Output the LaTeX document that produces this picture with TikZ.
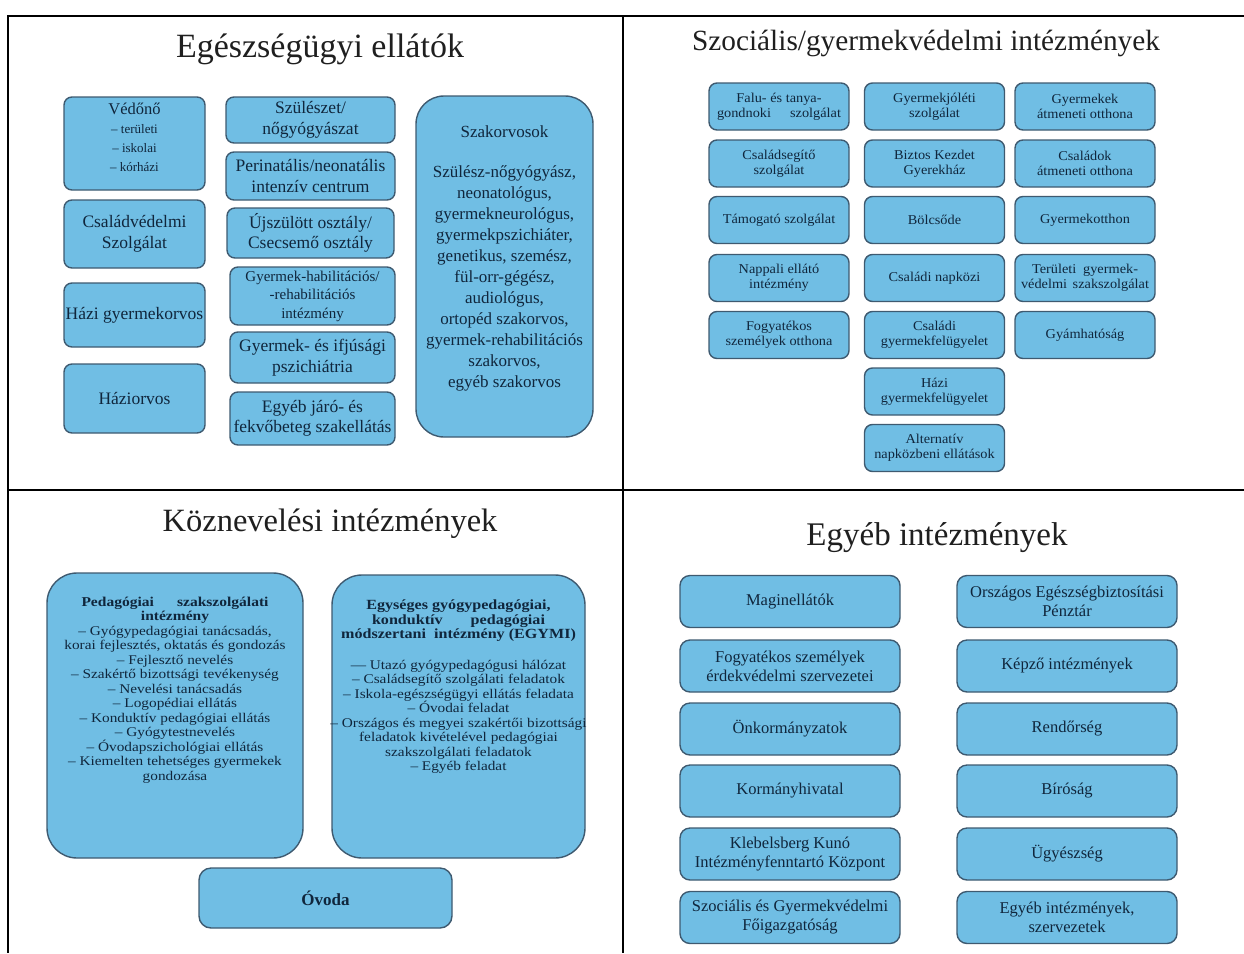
\documentclass[tikz,border=0pt]{standalone}
\usepackage{fontspec}
\setmainfont{Liberation Serif}
\newfontfamily\wideserif[FakeStretch=1.15]{Liberation Serif}
\newfontfamily\trserif[FakeStretch=1.06]{Liberation Serif}
\definecolor{cellfill}{RGB}{112,190,228}
\definecolor{celledge}{RGB}{62,90,112}
\definecolor{celltext}{RGB}{16,38,60}
\newcommand\setfs[2]{\fontsize{#1}{#2}\selectfont}

\begin{document}
\begin{tikzpicture}[x=1pt,y=-1pt,
  frame/.style={line width=2.6pt, black},
  heading/.style={anchor=base, inner sep=0, text=black!88},
  cell/.style={draw=celledge, fill=cellfill, line width=1.4pt, rounded corners=8pt,
               inner sep=0, align=center, text=celltext},
  celltxt/.style={align=center, text=celltext, inner sep=0},
  tl/.style={cell, font=\setfs{17.5}{20.5}},
  tr/.style={cell, minimum width=140pt, minimum height=47pt, font=\trserif\setfs{13.5}{15}},
  br/.style={cell, minimum width=220pt, minimum height=52pt, rounded corners=10pt,
             font=\setfs{16.5}{19}},
  bigbox/.style={cell, rounded corners=30pt}
]
\useasboundingbox (0,0) rectangle (1244,953);

% quadrant frame
\coordinate (ftl) at (8,16);
\coordinate (ftr) at (1244,16);
\coordinate (fbl) at (8,953);
\coordinate (fmt) at (623,16);
\coordinate (fmb) at (623,953);
\coordinate (fml) at (8,490);
\coordinate (fmr) at (1244,490);
\draw[frame] (ftr) -- (ftl) -- (fbl);
\draw[frame] (fmt) -- (fmb);
\draw[frame] (fml) -- (fmr);

% headings
\node[heading, font=\setfs{34}{40}]   (h1) at (320,57)  {Egészségügyi ellátók};
\node[heading, font=\setfs{29.3}{36}] (h2) at (926,50)  {Szociális/gyermekvédelmi intézmények};
\node[heading, font=\setfs{32.5}{38}] (h3) at (330,531) {Köznevelési intézmények};
\node[heading, font=\setfs{33}{38}]   (h4) at (937,545) {Egyéb intézmények};

% ---- health care: first column
\node[tl, minimum width=141pt, minimum height=93pt] (vedono) at (134.5,143.5) {};
\node[celltxt, font=\setfs{13}{19}] (vedonotxt) at (134.5,137)
  {{\setfs{16.5}{19}Védőnő}\\– területi\\– iskolai\\– kórházi};
\node[tl, minimum width=141pt, minimum height=68pt] (csvsz) at (134.5,234) {Családvédelmi\\Szolgálat};
\node[tl, minimum width=141pt, minimum height=64pt] (hgy) at (134.5,315) {Házi gyermekorvos};
\node[tl, minimum width=141pt, minimum height=69pt] (hao) at (134.5,398.5) {Háziorvos};

% ---- health care: second column
\node[tl, minimum width=169pt, minimum height=46pt] (szul) at (310.5,120) {Szülészet/\\nőgyógyászat};
\node[tl, minimum width=169pt, minimum height=48pt] (peri) at (310.5,176) {Perinatális/neonatális\\intenzív centrum};
\node[tl, minimum width=167pt, minimum height=50pt] (ujsz) at (310.5,233) {Újszülött osztály/\\Csecsemő osztály};
\node[tl, minimum width=165pt, minimum height=58pt, font=\setfs{15}{18.5}] (hab) at (312.5,296)
  {Gyermek-habilitációs/\\-rehabilitációs\\intézmény};
\node[tl, minimum width=165pt, minimum height=51pt] (psz) at (312.5,357.5) {Gyermek- és ifjúsági\\pszichiátria};
\node[tl, minimum width=165pt, minimum height=53pt] (jaro) at (312.5,418.5) {Egyéb járó- és\\fekvőbeteg szakellátás};

% ---- health care: specialists
\node[cell, rounded corners=28pt, minimum width=177pt, minimum height=341pt] (szak) at (504.5,266.5) {};
\node[celltxt, font=\setfs{17}{21}] (szaktxt) at (504.5,258)
  {Szakorvosok\\[19pt]Szülész-nőgyógyász,\\neonatológus,\\gyermekneurológus,\\gyermekpszichiáter,\\genetikus, szemész,\\fül-orr-gégész,\\audiológus,\\ortopéd szakorvos,\\gyermek-rehabilitációs\\szakorvos,\\egyéb szakorvos};

% ---- social and child protection institutions
\node[tr] (c11) at (779,106.5)   {Falu- és tanya-\\\makebox[124pt][s]{gondnoki szolgálat}};
\node[tr] (c12) at (934.5,106.5) {Gyermekjóléti\\szolgálat};
\node[tr] (c13) at (1085,106.5)  {Gyermekek\\átmeneti otthona};
\node[tr] (c21) at (779,163.5)   {Családsegítő\\szolgálat};
\node[tr] (c22) at (934.5,163.5) {Biztos Kezdet\\Gyerekház};
\node[tr] (c23) at (1085,163.5)  {Családok\\átmeneti otthona};
\node[tr] (c31) at (779,220)     {Támogató szolgálat};
\node[tr] (c32) at (934.5,220)   {Bölcsőde};
\node[tr] (c33) at (1085,220)    {Gyermekotthon};
\node[tr] (c41) at (779,278)     {Nappali ellátó\\intézmény};
\node[tr] (c42) at (934.5,278)   {Családi napközi};
\node[tr] (c43) at (1085,278)    {\makebox[106pt][s]{Területi gyermek-}\\\makebox[128pt][s]{védelmi szakszolgálat}};
\node[tr] (c51) at (779,335)     {Fogyatékos\\személyek otthona};
\node[tr] (c52) at (934.5,335)   {Családi\\gyermekfelügyelet};
\node[tr] (c53) at (1085,335)    {Gyámhatóság};
\node[tr] (c62) at (934.5,391.5) {Házi\\gyermekfelügyelet};
\node[tr] (c72) at (934.5,448)   {Alternatív\\napközbeni ellátások};

% ---- public education institutions
\node[bigbox, minimum width=256pt, minimum height=285pt] (ped) at (175,715.5) {};
\node[celltxt, font=\wideserif\setfs{13.3}{14.5}] (pedtxt) at (175,690)
  {{\bfseries\setfs{13.5}{14.5}\makebox[187pt][s]{Pedagógiai szakszolgálati}}\\
   {\bfseries\setfs{13.5}{14.5}intézmény}\\
   – Gyógypedagógiai tanácsadás,\\
   korai fejlesztés, oktatás és gondozás\\
   – Fejlesztő nevelés\\
   – Szakértő bizottsági tevékenység\\
   – Nevelési tanácsadás\\
   – Logopédiai ellátás\\
   – Konduktív pedagógiai ellátás\\
   – Gyógytestnevelés\\
   – Óvodapszichológiai ellátás\\
   – Kiemelten tehetséges gyermekek\\
   gondozása};
\node[bigbox, minimum width=253pt, minimum height=283pt] (egymi) at (458.5,716.5) {};
\node[celltxt, font=\wideserif\setfs{13.3}{14.5}] (egymitxt) at (458.5,687)
  {{\bfseries\setfs{14}{14.5}Egységes gyógypedagógiai,}\\
   {\bfseries\setfs{14}{14.5}\makebox[173pt][s]{konduktív pedagógiai}}\\
   {\bfseries\setfs{14}{14.5}módszertani\ \ intézmény (EGYMI)}\\[16pt]
   — Utazó gyógypedagógusi hálózat\\
   – Családsegítő szolgálati feladatok\\
   – Iskola-egészségügyi ellátás feladata\\
   – Óvodai feladat\\
   – Országos és megyei szakértői bizottsági\\
   feladatok kivételével pedagógiai\\
   szakszolgálati feladatok\\
   – Egyéb feladat};
\node[cell, rounded corners=12pt, minimum width=253pt, minimum height=60pt,
      font=\bfseries\setfs{17}{20}] (ovoda) at (325.5,898) {Óvoda};

% ---- other institutions
\node[br] (l1) at (790,601.5)  {Maginellátók};
\node[br] (l2) at (790,666)    {Fogyatékos személyek\\érdekvédelmi szervezetei};
\node[br] (l3) at (790,729)    {Önkormányzatok};
\node[br] (l4) at (790,791)    {Kormányhivatal};
\node[br] (l5) at (790,854)    {Klebelsberg Kunó\\Intézményfenntartó Központ};
\node[br] (l6) at (790,917.5)  {Szociális és Gyermekvédelmi\\Főigazgatóság};
\node[br] (r1) at (1067,601.5) {Országos Egészségbiztosítási\\Pénztár};
\node[br] (r2) at (1067,666)   {Képző intézmények};
\node[br] (r3) at (1067,729)   {Rendőrség};
\node[br] (r4) at (1067,791)   {Bíróság};
\node[br] (r5) at (1067,854)   {Ügyészség};
\node[br] (r6) at (1067,917.5) {Egyéb intézmények,\\szervezetek};
\end{tikzpicture}
\end{document}
